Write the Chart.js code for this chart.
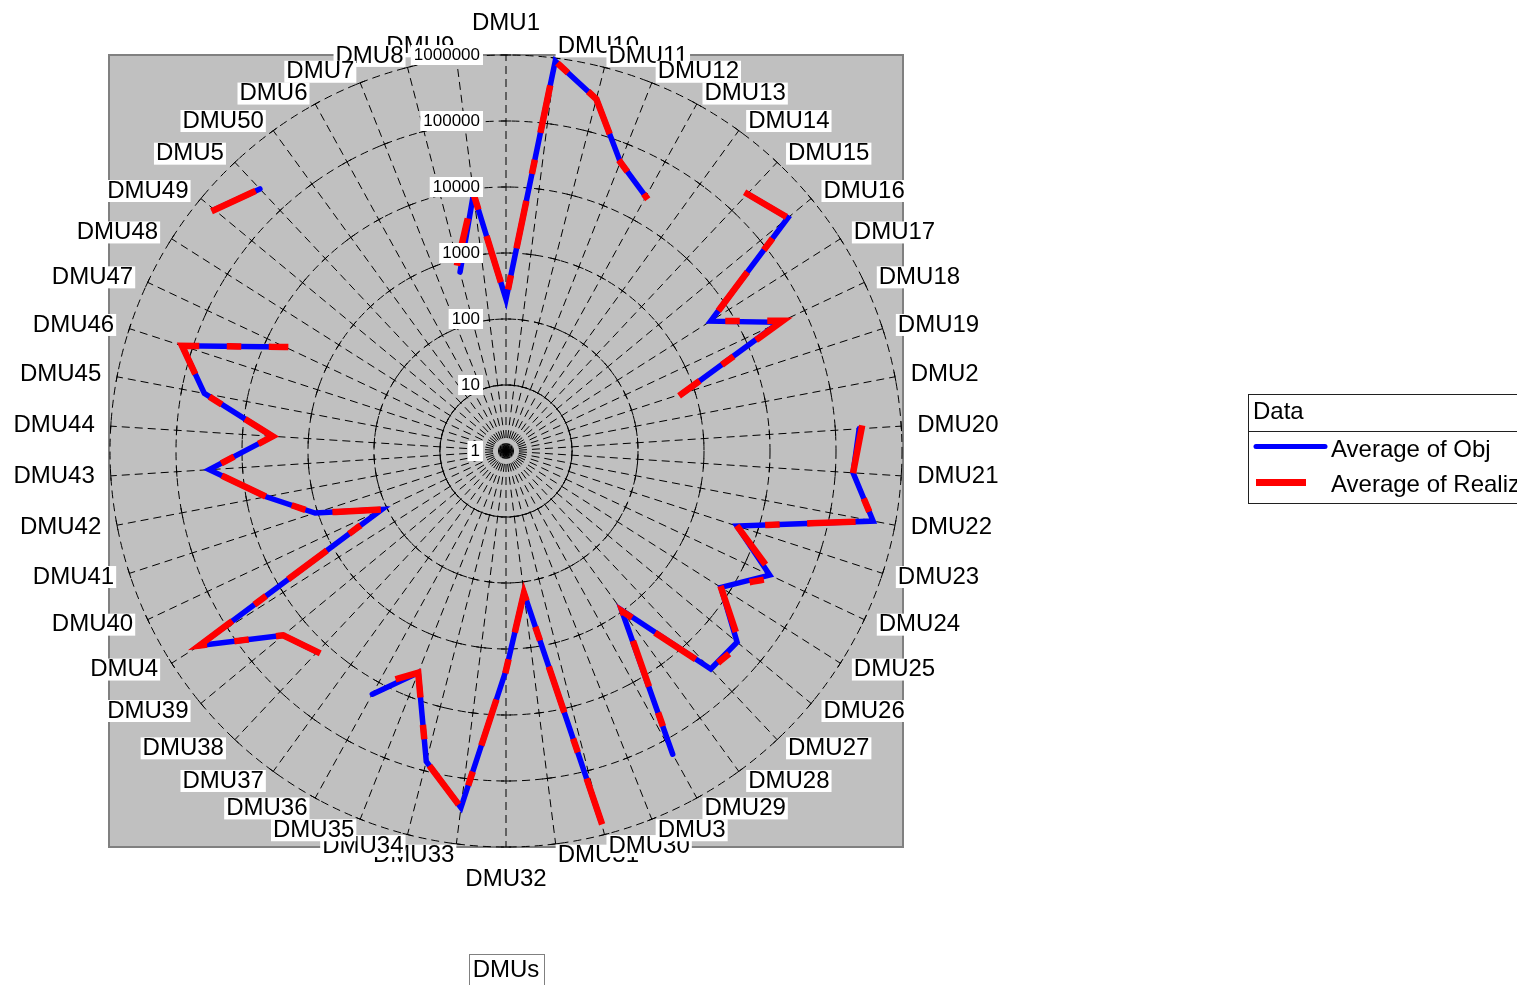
<!DOCTYPE html>
<html>
<head>
<meta charset="utf-8">
<script src="https://cdn.jsdelivr.net/npm/chart.js@4.4.1/dist/chart.umd.min.js"></script>
<style>
html, body { margin: 0; padding: 0; background: #ffffff; overflow: hidden; }
canvas { display: block; }
</style>
</head>
<body>
<canvas id="radar" width="1517" height="985"></canvas>
<script>
// Categories, clockwise from the top
const dmuLabels = [
  'DMU1', 'DMU10', 'DMU11', 'DMU12', 'DMU13', 'DMU14', 'DMU15', 'DMU16', 'DMU17', 'DMU18',
  'DMU19', 'DMU2', 'DMU20', 'DMU21', 'DMU22', 'DMU23', 'DMU24', 'DMU25', 'DMU26', 'DMU27',
  'DMU28', 'DMU29', 'DMU3', 'DMU30', 'DMU31', 'DMU32', 'DMU33', 'DMU34', 'DMU35', 'DMU36',
  'DMU37', 'DMU38', 'DMU39', 'DMU4', 'DMU40', 'DMU41', 'DMU42', 'DMU43', 'DMU44', 'DMU45',
  'DMU46', 'DMU47', 'DMU48', 'DMU49', 'DMU5', 'DMU50', 'DMU6', 'DMU7', 'DMU8', 'DMU9'
];

// Average of Obj (null = no value)
const avgObj = [
  200, 900000, 320000, 51000, 25000, null, 220000, 350000, 4700, 38000,
  630, null, 230000, 186000, 460000, 4800, 26000, 7200, 35000, 34000,
  950, 175000, null, 620000, 148, 2100, 280000, 72000, 4100, 16000,
  null, 15000, 24000, 316000, 120, 1100, 5000, 32000, 3500, 45000,
  145000, 5000, null, 540000, 280000, null, null, null, 630, 8500
];

// Average of Realized (null = no value)
const avgRealized = [
  200, 900000, 320000, 51000, 25000, null, 220000, 350000, 4700, 43000,
  630, null, 250000, 186000, 460000, 4800, 32000, 7200, 40000, 34000,
  1020, 175000, null, 620000, 148, 2100, 280000, 72000, 4100, 11000,
  null, 15000, 24000, 316000, 120, 1100, 5000, 32000, 3500, 45000,
  145000, 5000, null, 540000, 280000, null, null, null, 890, 8500
];

// Logarithmic radial ticks
const tickValues = [1, 10, 100, 1000, 10000, 100000, 1000000];

const seriesNames = ['Average of Obj', 'Average of Realized'];
const legendTitle = 'Data';
const axisTitle = 'DMUs';

const FONT = '"Liberation Sans", Arial, Helvetica, sans-serif';
const toLog = v => (v === null ? null : Math.log10(v));

// Grey plot panel behind the radar
const panelPlugin = {
  id: 'panel',
  beforeDraw(chart) {
    const { ctx, chartArea: a } = chart;
    ctx.save();
    ctx.fillStyle = '#c0c0c0';
    ctx.fillRect(a.left, a.top, a.right - a.left, a.bottom - a.top);
    ctx.strokeStyle = '#808080';
    ctx.lineWidth = 2;
    ctx.strokeRect(a.left, a.top, a.right - a.left, a.bottom - a.top);
    ctx.restore();
  }
};

// Small tick marks where each spoke crosses a decade ring
const spokeTickPlugin = {
  id: 'spokeTicks',
  beforeDatasetsDraw(chart) {
    const r = chart.scales.r;
    const ctx = chart.ctx;
    ctx.save();
    ctx.strokeStyle = '#000000';
    ctx.lineWidth = 1;
    ctx.beginPath();
    for (let i = 0; i < dmuLabels.length; i++) {
      for (let k = 1; k < tickValues.length; k++) {
        const d = r.getDistanceFromCenterForValue(Math.log10(tickValues[k]));
        const p = r.getPointPosition(i, d);
        const a = p.angle;
        const ux = -Math.sin(a), uy = Math.cos(a);
        ctx.moveTo(p.x - ux * 5, p.y - uy * 5);
        ctx.lineTo(p.x + ux * 5, p.y + uy * 5);
      }
    }
    ctx.stroke();
    ctx.restore();
  }
};

function boxedText(ctx, text, x, y, align, padX, boxH) {
  ctx.textAlign = align;
  ctx.textBaseline = 'middle';
  const w = ctx.measureText(text).width;
  let left;
  if (align === 'left') left = x - padX;
  else if (align === 'right') left = x - w - padX;
  else left = x - w / 2 - padX;
  ctx.fillStyle = '#ffffff';
  ctx.fillRect(left, y - boxH / 2, w + padX * 2, boxH);
  ctx.fillStyle = '#000000';
  ctx.fillText(text, x, y);
}

// Category labels, tick labels, axis title and legend
const annotatePlugin = {
  id: 'annotate',
  afterDraw(chart) {
    const r = chart.scales.r;
    const ctx = chart.ctx;
    const xc = r.xCenter, yc = r.yCenter;
    ctx.save();

    // category labels, drawn from the top/bottom towards the sides
    ctx.font = '24px ' + FONT;
    const order = dmuLabels.map((_, i) => i)
      .sort((a, b) => Math.abs(Math.cos(r.getIndexAngle(b))) - Math.abs(Math.cos(r.getIndexAngle(a))));
    for (const i of order) {
      const ang = r.getIndexAngle(i);
      const s = Math.sin(ang), c = Math.cos(ang);
      const p = r.getPointPosition(i, 412);
      if (Math.abs(s) < 0.01) {
        boxedText(ctx, dmuLabels[i], p.x, c > 0 ? p.y - 16 : p.y + 16, 'center', 2, 22);
      } else {
        const y = yc + (p.y - yc) * 0.99;
        boxedText(ctx, dmuLabels[i], p.x, y, s > 0 ? 'left' : 'right', 2, 22);
      }
    }

    // radial tick labels along the upper spoke
    ctx.font = '17px ' + FONT;
    for (const t of tickValues) {
      const d = r.getDistanceFromCenterForValue(Math.log10(t));
      boxedText(ctx, String(t), xc - 26, yc - d, 'right', 3, 20);
    }

    // axis title
    ctx.font = '24px ' + FONT;
    ctx.textAlign = 'center';
    ctx.textBaseline = 'middle';
    const tw = ctx.measureText(axisTitle).width;
    ctx.fillStyle = '#ffffff';
    ctx.fillRect(xc - tw / 2 - 4, 954, tw + 8, 34);
    ctx.strokeStyle = '#808080';
    ctx.lineWidth = 1;
    ctx.strokeRect(Math.round(xc - tw / 2 - 4) + 0.5, 954.5, Math.round(tw + 8), 34);
    ctx.fillStyle = '#000000';
    ctx.fillText(axisTitle, xc, 970);

    // legend
    const lx = 1248.5, ly = 394.5;
    ctx.strokeStyle = '#202020';
    ctx.lineWidth = 1;
    ctx.strokeRect(lx, ly, 400, 109);
    ctx.beginPath();
    ctx.moveTo(lx, 431.5);
    ctx.lineTo(lx + 400, 431.5);
    ctx.stroke();
    ctx.font = '24px ' + FONT;
    ctx.textAlign = 'left';
    ctx.fillStyle = '#000000';
    ctx.fillText(legendTitle, 1253, 412);

    const ds = chart.data.datasets;
    ctx.lineCap = 'round';
    ctx.strokeStyle = ds[0].borderColor;
    ctx.lineWidth = 5;
    ctx.beginPath();
    ctx.moveTo(1256, 446.5);
    ctx.lineTo(1325, 446.5);
    ctx.stroke();
    ctx.fillStyle = ds[1].borderColor;
    ctx.fillRect(1256, 479, 50, 7);
    ctx.fillStyle = '#000000';
    ctx.fillText(ds[0].label, 1331, 450);
    ctx.fillText(ds[1].label, 1331, 485);

    ctx.restore();
  }
};

new Chart(document.getElementById('radar').getContext('2d'), {
  type: 'radar',
  data: {
    labels: dmuLabels,
    datasets: [
      {
        label: seriesNames[0],
        data: avgObj.map(toLog),
        borderColor: '#0000ff',
        borderWidth: 5.5,
        borderCapStyle: 'round',
        borderJoinStyle: 'miter',
        pointRadius: 0,
        fill: false,
        spanGaps: false,
        order: 2
      },
      {
        label: seriesNames[1],
        data: avgRealized.map(toLog),
        borderColor: '#ff0000',
        borderWidth: 6.5,
        borderCapStyle: 'square',
        borderJoinStyle: 'miter',
        borderDash: [42, 34, 8, 34],
        pointRadius: 0,
        fill: false,
        spanGaps: false,
        order: 1,
        // each leg starts its own dash sequence
        segment: { borderDashOffset: c => c.p0DataIndex * 1e-4 }
      }
    ]
  },
  options: {
    responsive: false,
    animation: false,
    devicePixelRatio: 1,
    events: [],
    layout: { padding: { left: 109, top: 55, right: 614, bottom: 138 } },
    plugins: { legend: { display: false }, tooltip: { enabled: false } },
    scales: {
      r: {
        min: Math.log10(tickValues[0]),
        max: Math.log10(tickValues[tickValues.length - 1]),
        ticks: { display: false, stepSize: 1 },
        pointLabels: { display: false },
        grid: { circular: true, color: '#000000', lineWidth: 1 },
        border: { dash: [8, 5] },
        angleLines: { display: true, color: '#000000', lineWidth: 1, borderDash: [8, 5] }
      }
    }
  },
  plugins: [panelPlugin, spokeTickPlugin, annotatePlugin]
});
</script>
</body>
</html>
